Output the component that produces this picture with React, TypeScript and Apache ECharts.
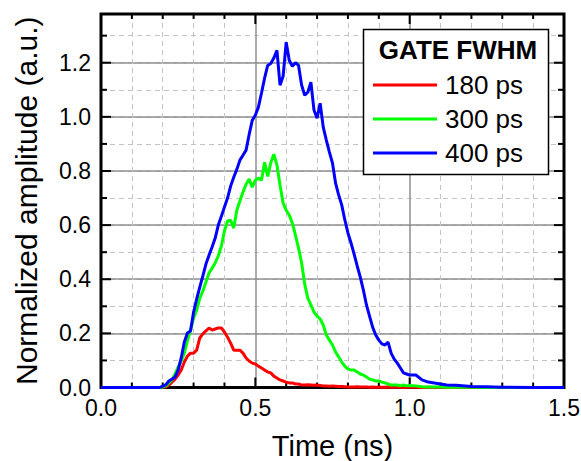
import React, { useEffect, useRef } from "react";
import * as echarts from "echarts";

const TIME = [
  0, 0.1, 0.15,
  0.19, 0.2, 0.21, 0.22, 0.23, 0.24, 0.25, 0.26, 0.27, 0.28, 0.29,
  0.3, 0.31, 0.32, 0.33, 0.34, 0.35, 0.36, 0.37, 0.38, 0.39,
  0.4, 0.41, 0.42, 0.43, 0.44, 0.45, 0.46, 0.47, 0.48, 0.49,
  0.5, 0.51, 0.52, 0.53, 0.54, 0.55, 0.56, 0.57, 0.58, 0.59,
  0.6, 0.61, 0.62, 0.63, 0.64, 0.65, 0.66, 0.67, 0.68, 0.69,
  0.7, 0.71, 0.72, 0.73, 0.74, 0.75, 0.76, 0.77, 0.78, 0.79,
  0.8, 0.81, 0.82, 0.83, 0.84, 0.85, 0.86, 0.87, 0.88, 0.89,
  0.9, 0.91, 0.92, 0.93, 0.94, 0.95, 0.96, 0.97, 0.98, 0.99,
  1.0, 1.02, 1.04, 1.06, 1.08, 1.1, 1.12, 1.15, 1.2, 1.25, 1.3, 1.4, 1.5,
];

const GATE_180 = [
  0, 0, 0,
  0, 0.002, 0.002, 0.009, 0.02, 0.031, 0.046, 0.065, 0.094, 0.116, 0.127,
  0.127, 0.138, 0.183, 0.198, 0.209, 0.22, 0.212, 0.216, 0.22, 0.22,
  0.205, 0.186, 0.164, 0.138, 0.138, 0.138, 0.127, 0.109, 0.098, 0.09,
  0.087, 0.079, 0.072, 0.065, 0.057, 0.054, 0.042, 0.035, 0.028, 0.024,
  0.02, 0.017, 0.017, 0.013, 0.013, 0.009, 0.009, 0.01, 0.009, 0.008,
  0.009, 0.007, 0.006, 0.006, 0.005, 0.006, 0.005, 0.004, 0.004, 0.003,
  0.002, 0.002, 0.002, 0.003, 0.002, 0.002, 0.002, 0.001, 0.002, 0.001,
  0.001, 0.001, 0.001, 0.002, 0.001, 0.001, 0.001, 0.001, 0, 0.001,
  0.001, 0.001, 0, 0.001, 0, 0, 0, 0, 0, 0, 0, 0, 0,
];

const GATE_300 = [
  0, 0, 0,
  0, 0.002, 0.006, 0.017, 0.028, 0.05, 0.076, 0.098, 0.127, 0.172, 0.212,
  0.257, 0.286, 0.33, 0.356, 0.39, 0.423, 0.441, 0.46, 0.486, 0.523,
  0.578, 0.615, 0.618, 0.589, 0.655, 0.689, 0.722, 0.751, 0.77, 0.74,
  0.766, 0.774, 0.766, 0.832, 0.78, 0.83, 0.862, 0.822, 0.748, 0.681,
  0.655, 0.637, 0.607, 0.563, 0.515, 0.46, 0.382, 0.33, 0.305, 0.279,
  0.264, 0.253, 0.231, 0.194, 0.175, 0.157, 0.131, 0.113, 0.094, 0.079,
  0.068, 0.065, 0.065, 0.057, 0.05, 0.046, 0.039, 0.031, 0.028, 0.024,
  0.024, 0.02, 0.017, 0.013, 0.009, 0.009, 0.009, 0.006, 0.009, 0.006,
  0.007, 0.006, 0.003, 0.002, 0.002, 0.002, 0.001, 0.001, 0.001, 0, 0, 0, 0,
];

const GATE_400 = [
  0, 0, 0,
  0, 0.005, 0.01, 0.024, 0.031, 0.039, 0.065, 0.11, 0.168, 0.201, 0.209,
  0.279, 0.327, 0.371, 0.412, 0.456, 0.489, 0.519, 0.552, 0.6, 0.633,
  0.667, 0.7, 0.744, 0.777, 0.806, 0.84, 0.858, 0.877, 0.935, 0.987,
  1.006, 1.036, 1.088, 1.143, 1.19, 1.197, 1.217, 1.246, 1.117, 1.15,
  1.276, 1.208, 1.187, 1.2, 1.19, 1.117, 1.08, 1.091, 1.128, 1.025,
  0.995, 1.05, 0.962, 0.914, 0.87, 0.829, 0.755, 0.711, 0.674, 0.619,
  0.571, 0.534, 0.493, 0.449, 0.408, 0.36, 0.305, 0.264, 0.223, 0.194,
  0.175, 0.161, 0.157, 0.168, 0.127, 0.105, 0.09, 0.072, 0.054, 0.05,
  0.046, 0.046, 0.028, 0.02, 0.017, 0.013, 0.009, 0.008, 0.004, 0.003, 0.001, 0, 0,
];

const SERIES_NAMES = ["180 ps", "300 ps", "400 ps"];
const SERIES_COLORS = ["#ff0000", "#00ff00", "#0000ff"];
const LEGEND_TITLE = "GATE FWHM";
const X_TITLE = "Time (ns)";
const Y_TITLE = "Normalized amplitude (a.u.)";

const X_MIN = 0;
const X_MAX = 1.5;
const X_STEP = 0.5;
const Y_MIN = 0;
const Y_MAX = 1.38;
const Y_STEP = 0.2;
const Y_MINOR_STEP = 0.1;

// tick marks (inward) drawn on all four sides
const X_MAJOR_TICKS = [0.5, 1.0];
const X_MINOR_TICKS = [0.1, 0.2, 0.3, 0.4, 0.6, 0.7, 0.8, 0.9, 1.1, 1.2, 1.3, 1.4];
const Y_MAJOR_TICKS = [0.2, 0.4, 0.6, 0.8, 1.0, 1.2];
const Y_MINOR_TICKS = [0.1, 0.3, 0.5, 0.7, 0.9, 1.1, 1.3];

const FONT = "'Liberation Sans', Arial, Helvetica, sans-serif";

export default function App() {
  const ref = useRef<HTMLDivElement>(null);

  useEffect(() => {
    if (!ref.current) return;
    const chart = echarts.init(ref.current, undefined, { renderer: "svg" });
    const values = [GATE_180, GATE_300, GATE_400];

    const majorGrid = {
      show: true,
      showMinLine: false,
      showMaxLine: false,
      lineStyle: { color: "#8f8f8f", width: 1.5 },
    };
    const minorGrid = {
      show: true,
      showMinLine: false,
      showMaxLine: false,
      lineStyle: { color: "#c4c4c4", width: 1, type: [5, 4] },
    };
    const noLine = { show: false };

    chart.setOption({
      animation: false,
      backgroundColor: "#fff",
      grid: { left: 101, top: 14, width: 463, height: 373.5, outerBoundsMode: "none" },
      xAxis: [
        {
          type: "value",
          position: "bottom",
          min: X_MIN,
          max: X_MAX,
          interval: X_STEP,
          axisLine: noLine,
          axisTick: noLine,
          minorTick: { show: false, splitNumber: 5 },
          axisLabel: {
            show: true,
            fontSize: 23,
            color: "#000",
            fontFamily: FONT,
            margin: 9,
            formatter: (v: number) => v.toFixed(1),
          },
          splitLine: majorGrid,
          minorSplitLine: minorGrid,
          name: X_TITLE,
          nameLocation: "middle",
          nameGap: 44,
          nameTextStyle: { fontSize: 29, color: "#000", fontFamily: FONT },
        },
      ],
      yAxis: [
        {
          type: "value",
          position: "left",
          min: Y_MIN,
          max: Y_MAX,
          interval: Y_MINOR_STEP,
          axisLine: noLine,
          axisTick: noLine,
          axisLabel: { show: false },
          splitLine: minorGrid,
        },
        {
          type: "value",
          position: "left",
          min: Y_MIN,
          max: Y_MAX,
          interval: Y_STEP,
          axisLine: noLine,
          axisTick: noLine,
          axisLabel: {
            show: true,
            fontSize: 23,
            color: "#000",
            fontFamily: FONT,
            margin: 10,
            showMaxLabel: false,
            formatter: (v: number) => v.toFixed(1),
          },
          splitLine: majorGrid,
          name: Y_TITLE,
          nameLocation: "middle",
          nameRotate: 90,
          nameGap: 60,
          nameTextStyle: { fontSize: 30, color: "#000", fontFamily: FONT },
        },
      ],
      legend: {
        orient: "vertical",
        left: 373,
        top: 71,
        padding: 0,
        icon: "rect",
        itemWidth: 64,
        itemHeight: 3,
        itemGap: 6,
        z: 20,
        data: SERIES_NAMES,
        textStyle: { fontSize: 26, color: "#000", fontFamily: FONT, lineHeight: 28, padding: [0, 0, 0, 3] },
      },
      series: SERIES_NAMES.map((name, i) => ({
        name,
        type: "line",
        xAxisIndex: 0,
        yAxisIndex: 1,
        showSymbol: false,
        symbol: "none",
        z: 3,
        color: SERIES_COLORS[i],
        itemStyle: { color: SERIES_COLORS[i] },
        lineStyle: { color: SERIES_COLORS[i], width: 3 },
        data: TIME.map((t, j) => [t, values[i][j]]),
      })),
    });

    // Frame and inward ticks, positioned through the chart's own scales
    const px = (v: number) => chart.convertToPixel({ xAxisIndex: 0 }, v) as number;
    const py = (v: number) => chart.convertToPixel({ yAxisIndex: 1 }, v) as number;
    const left = px(X_MIN);
    const right = px(X_MAX);
    const bottom = py(Y_MIN);
    const top = py(Y_MAX);

    const tickStyle = { stroke: "#000", lineWidth: 2 };
    const ticks: any[] = [];
    const addX = (v: number, len: number) => {
      const x = px(v);
      ticks.push({ type: "line", z: 2, shape: { x1: x, y1: bottom, x2: x, y2: bottom - len }, style: tickStyle });
      ticks.push({ type: "line", z: 2, shape: { x1: x, y1: top, x2: x, y2: top + len }, style: tickStyle });
    };
    const addY = (v: number, len: number) => {
      const y = py(v);
      ticks.push({ type: "line", z: 2, shape: { x1: left, y1: y, x2: left + len, y2: y }, style: tickStyle });
      ticks.push({ type: "line", z: 2, shape: { x1: right, y1: y, x2: right - len, y2: y }, style: tickStyle });
    };
    X_MAJOR_TICKS.forEach((v) => addX(v, 10));
    X_MINOR_TICKS.forEach((v) => addX(v, 5));
    Y_MAJOR_TICKS.forEach((v) => addY(v, 10));
    Y_MINOR_TICKS.forEach((v) => addY(v, 6));

    chart.setOption({
      graphic: [
        {
          type: "rect",
          z: 2,
          shape: { x: left, y: top, width: right - left, height: bottom - top },
          style: { fill: "none", stroke: "#000", lineWidth: 3 },
        },
        ...ticks,
        {
          type: "rect",
          z: 10,
          shape: { x: 363.5, y: 29.5, width: 185, height: 145 },
          style: { fill: "#fff", stroke: "#000", lineWidth: 1.5 },
        },
        {
          type: "text",
          z: 20,
          x: 458,
          y: 50,
          style: {
            text: LEGEND_TITLE,
            fontSize: 26,
            fontWeight: "bold",
            fontFamily: FONT,
            fill: "#000",
            align: "center",
            verticalAlign: "middle",
          },
        },
      ],
    });

    return () => chart.dispose();
  }, []);

  return (
    <div
      ref={ref}
      style={{ position: "fixed", left: 0, top: 0, width: 581, height: 461, background: "#fff" }}
    />
  );
}
